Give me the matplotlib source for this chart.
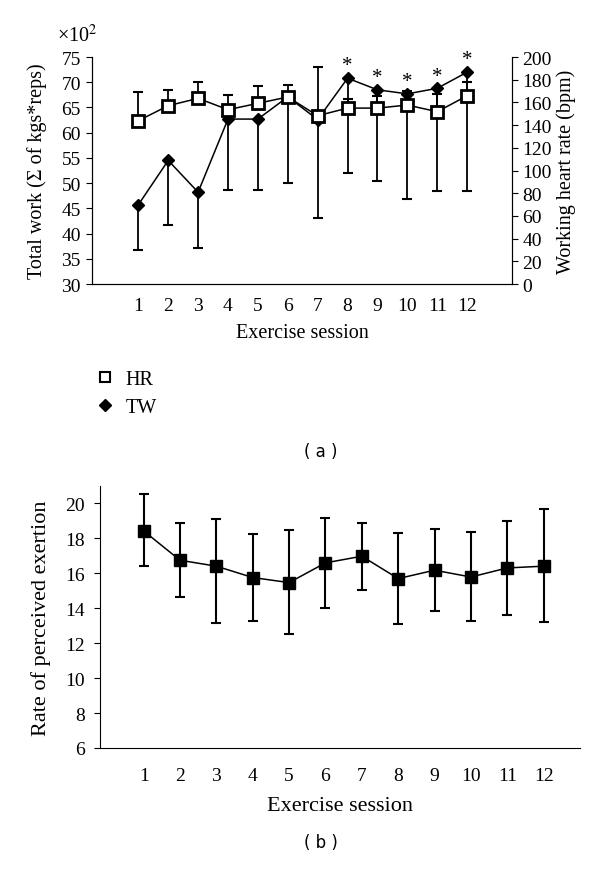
import numpy as np
import matplotlib.pyplot as plt
from matplotlib.lines import Line2D

plt.rcParams['font.family'] = ['Liberation Serif', 'DejaVu Serif']
plt.rcParams['mathtext.fontset'] = 'stix'

# ---- panel (a) data ----
sessions = np.arange(1, 13)
tw = [45.7, 54.5, 48.2, 62.7, 62.7, 67.1, 62.6, 70.8, 68.5, 67.7, 68.8, 72.0]   # x10^2
tw_low = [36.8, 41.7, 37.1, 48.6, 48.6, 50.1, 43.1, 52.0, 50.5, 46.8, 48.4, 48.4]
hr = [143.9, 157.1, 163.6, 153.6, 159.2, 164.8, 148.3, 155.0, 155.0, 157.7, 151.8, 165.9]
hr_up = [168.9, 171.2, 178.0, 166.8, 174.2, 175.3, 191.0, 163.0, 166.0, 170.0, 167.0, 177.7]
star_sessions = [8, 9, 10, 11, 12]

# ---- panel (b) data ----
rpe = [18.43, 16.75, 16.41, 15.76, 15.47, 16.6, 16.98, 15.7, 16.18, 15.79, 16.31, 16.41]
rpe_up = [20.54, 18.89, 19.12, 18.24, 18.49, 19.18, 18.91, 18.3, 18.55, 18.39, 19.02, 19.66]
rpe_low = [16.41, 14.65, 13.17, 13.25, 12.5, 14.0, 15.07, 13.08, 13.82, 13.25, 13.61, 13.19]

fig = plt.figure(figsize=(6, 8.7), dpi=100)

# panel (a)
ax = fig.add_axes([0.1533, 0.6724, 0.70, 0.2609])
ax2 = ax.twinx()

ax.vlines(sessions, tw_low, tw, color='black', lw=1.3, zorder=2)
ax.plot(sessions, tw_low, ls='none', marker='_', ms=7, mew=1.5, color='black', zorder=2)
ax.plot(sessions, tw, color='black', lw=1.1, marker='D', ms=6.5, mfc='black', mec='black', zorder=3)
for s in star_sessions:
    ax.annotate('*', (s, tw[s - 1]), xytext=(0, 2), textcoords='offset points',
                ha='center', va='bottom', fontsize=15)

ax2.vlines(sessions, hr, hr_up, color='black', lw=1.3, zorder=2)
ax2.plot(sessions, hr_up, ls='none', marker='_', ms=7, mew=1.5, color='black', zorder=2)
ax2.plot(sessions, hr, color='black', lw=1.1, marker='s', ms=9, mfc='white', mec='black', mew=2, zorder=3)

ax.set_xlim(-0.55, 13.5)
ax.set_ylim(30, 75)
ax2.set_ylim(0, 200)
ax.set_yticks(np.arange(30, 76, 5))
ax2.set_yticks(np.arange(0, 201, 20))
ax.set_xticks(sessions)
ax.tick_params(axis='x', length=0, labelsize=14, pad=9)
ax.tick_params(axis='y', direction='out', length=4, labelsize=14, pad=4)
ax2.tick_params(axis='y', direction='out', length=4, labelsize=14)
for a in (ax, ax2):
    a.spines['top'].set_visible(False)
ax.set_xlabel('Exercise session', fontsize=14.5, labelpad=7)
ax.set_ylabel('Total work (Σ of kgs*reps)', fontsize=14.5, labelpad=10)
ax2.set_ylabel('Working heart rate (bpm)', fontsize=14.5, labelpad=3)
fig.text(0.128, 0.958, r'×10$^2$', fontsize=14.5, ha='center', va='center')

handles = [Line2D([], [], ls='none', marker='s', ms=7, mfc='white', mec='black', mew=1.5),
           Line2D([], [], ls='none', marker='D', ms=6.5, mfc='black', mec='black')]
fig.legend(handles, ['HR', 'TW'], loc='upper left', bbox_to_anchor=(0.145, 0.585),
           frameon=False, fontsize=14.5, handlelength=0.8, handletextpad=0.6,
           labelspacing=0.45, borderpad=0)

fig.text(0.535, 0.481, '( a )', fontsize=12, ha='center', va='center', family='DejaVu Sans')

# panel (b)
bx = fig.add_axes([0.1667, 0.1391, 0.80, 0.3011])
yerr = [np.array(rpe) - np.array(rpe_low), np.array(rpe_up) - np.array(rpe)]
bx.errorbar(sessions, rpe, yerr=yerr, fmt='none', ecolor='black', elinewidth=1.5,
            capsize=3.5, capthick=1.5, zorder=2)
bx.plot(sessions, rpe, color='black', lw=1.1, marker='s', ms=8.5, mfc='black', mec='black', zorder=3)
bx.set_xlim(-0.2, 13.0)
bx.set_ylim(6, 21)
bx.set_yticks(np.arange(6, 21, 2))
bx.set_xticks(sessions)
bx.tick_params(axis='x', length=0, labelsize=14, pad=14)
bx.tick_params(axis='y', direction='out', length=4, labelsize=14, pad=7)
bx.spines['top'].set_visible(False)
bx.spines['right'].set_visible(False)
bx.set_xlabel('Exercise session', fontsize=16, labelpad=8)
bx.set_ylabel('Rate of perceived exertion', fontsize=16, labelpad=10)

fig.text(0.535, 0.031, '( b )', fontsize=12, ha='center', va='center', family='DejaVu Sans')

fig.savefig('out.png', dpi=100)
